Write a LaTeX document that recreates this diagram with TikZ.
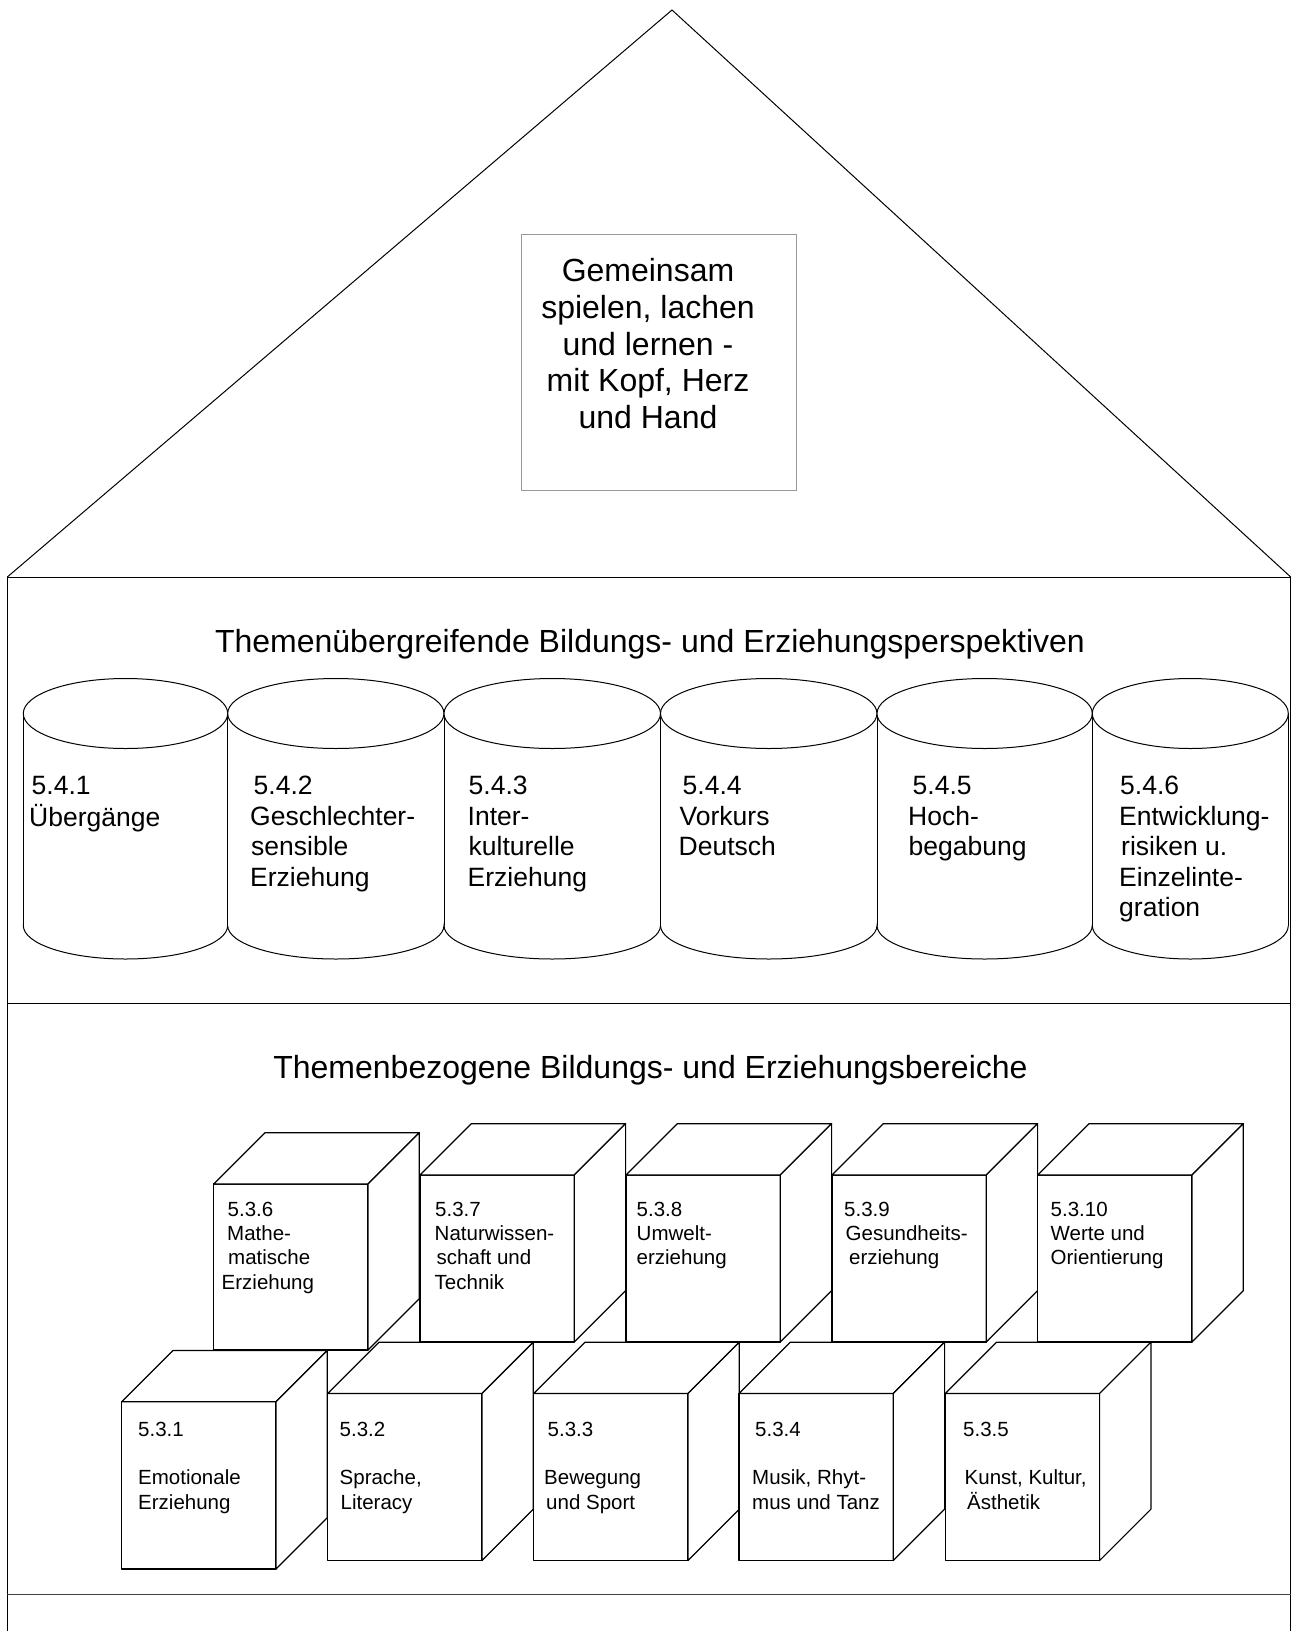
\documentclass[tikz,border=0pt]{standalone}
\usepackage{fontspec}
\setmainfont{Liberation Sans}
\tikzset{
  wall/.style={draw=black, line width=1pt},
  cylline/.style={draw=black, line width=1pt},
  cubeline/.style={draw=black, line width=1.2pt, fill=white, line join=round},
  cyltext/.style={anchor=north west, inner sep=0pt, align=left, font=\fontsize{26.5}{30.5}\selectfont},
  cubetext/.style={anchor=north west, inner sep=0pt, align=left, font=\fontsize{20.5}{24.3}\selectfont},
  titletext/.style={anchor=base, inner sep=0pt, font=\fontsize{32}{38}\selectfont},
}
\begin{document}
\begin{tikzpicture}[x=1pt,y=-1pt]
\fill[white] (0,0) rectangle (1293,1631);
\useasboundingbox (0,0) rectangle (1293,1631);

% house outline
\coordinate (apex) at (672,10);
\coordinate (eL) at (7.3,577);
\coordinate (eR) at (1290.7,577);
\coordinate (bL) at (7.3,1631);
\coordinate (bR) at (1290.7,1631);
\coordinate (m1L) at (7.3,1003.3);
\coordinate (m1R) at (1290.7,1003.3);
\coordinate (m2L) at (7.3,1594.5);
\coordinate (m2R) at (1290.7,1594.5);
\draw[wall] (eL) -- (apex) -- (eR);
\draw[wall] (bL) -- (eL) -- (eR) -- (bR);
\draw[wall] (m1L) -- (m1R);
\draw[line width=1.6pt, black!75] (m2L) -- (m2R);

% motto box
\node[draw=black!40, line width=1pt, minimum width=274.3pt, minimum height=255.7pt, inner sep=0pt] (motto) at (658.85,362.15) {};
\node[anchor=north, align=center, inner sep=0pt, font=\fontsize{32}{36.7}\selectfont] (mottotext) at (648,256) {\strut Gemeinsam\\spielen, lachen\\und lernen -\\mit Kopf, Herz\\und Hand};

% titles
\node[titletext] (t1) at (650,652) {Themenübergreifende Bildungs- und Erziehungsperspektiven};
\node[titletext] (t2) at (650.5,1078.3) {Themenbezogene Bildungs- und Erziehungsbereiche};

% cylinders
\foreach \a/\b in {23.3/227.7, 227.7/444, 444/660.5, 660.5/877, 877/1092.3, 1092.3/1288.3} {
  \pgfmathsetmacro\cc{(\a+\b)/2}
  \pgfmathsetmacro\rr{(\b-\a)/2}
  \draw[cylline, fill=white] (\cc,925.5) ellipse [x radius=\rr pt, y radius=33.5pt];
  \fill[white] (\a,713.5) rectangle (\b,925.5);
  \draw[cylline] (\a,713.5) -- (\a,925.5) (\b,713.5) -- (\b,925.5);
  \draw[cylline, fill=white] (\cc,713.5) ellipse [x radius=\rr pt, y radius=35pt];
}

\node[cyltext] (c1) at (29,773) {\strut\hspace{2.5pt}5.4.1\\Übergänge};
\node[cyltext] (c2) at (250,773) {\strut\hspace{3.5pt}5.4.2\\Geschlechter-\\\hspace{1pt}sensible\\Erziehung};
\node[cyltext] (c3) at (467.5,773) {\strut\hspace{1pt}5.4.3\\Inter-\\\hspace{1pt}kulturelle\\Erziehung};
\node[cyltext] (c4) at (678.5,773) {\strut\hspace{4pt}5.4.4\\\hspace{1pt}Vorkurs\\Deutsch};
\node[cyltext] (c5) at (908,773) {\strut\hspace{4.5pt}5.4.5\\Hoch-\\\hspace{0.5pt}begabung};
\node[cyltext] (c6) at (1119,773) {\strut\hspace{1pt}5.4.6\\Entwicklung-\\\hspace{2pt}risiken u.\\Einzelinte-\\gration};

% cubes, back row then front row
\foreach \x/\y/\h in {213.7/1184/166, 420/1175/167, 626/1175/167, 832/1175/167, 1037.7/1175/167,
                      121.7/1401.7/167.3, 327.7/1393.5/167, 533.7/1393.5/167, 739/1393.5/167, 945.3/1393.5/167} {
  \draw[cubeline] (\x,\y) rectangle ++(154.3,\h);
  \draw[cubeline] (\x,\y) -- ++(51.3,-51.3) -- ++(154.3,0) -- ++(-51.3,51.3) -- cycle;
  \draw[cubeline] ({\x+154.3},\y) -- ++(51.3,-51.3) -- ++(0,\h) -- ++(-51.3,51.3) -- cycle;
}

\node[cubetext] (k6) at (221.5,1199) {\strut\hspace{6pt}5.3.6\\\hspace{5.5pt}Mathe-\\\hspace{6.5pt}matische\\Erziehung};
\node[cubetext] (k7) at (434.5,1199) {\strut\hspace{0.5pt}5.3.7\\Naturwissen-\\\hspace{2pt}schaft und\\Technik};
\node[cubetext] (k8) at (636.5,1199) {\strut 5.3.8\\Umwelt-\\erziehung};
\node[cubetext] (k9) at (844,1199) {\strut 5.3.9\\\hspace{1.5pt}Gesundheits-\\\hspace{5pt}erziehung};
\node[cubetext] (k10) at (1050.5,1199) {\strut 5.3.10\\Werte und\\Orientierung};

\node[cubetext] (k1) at (138,1419) {\strut 5.3.1\\[24.3pt]Emotionale\\Erziehung};
\node[cubetext] (k2) at (339.5,1419) {\strut 5.3.2\\[24.3pt]Sprache,\\\hspace{1pt}Literacy};
\node[cubetext] (k3) at (544,1419) {\strut\hspace{3.5pt}5.3.3\\[24.3pt]Bewegung\\\hspace{2pt}und Sport};
\node[cubetext] (k4) at (752,1419) {\strut\hspace{3pt}5.3.4\\[24.3pt]Musik, Rhyt-\\mus und Tanz};
\node[cubetext] (k5) at (963,1419) {\strut 5.3.5\\[24.3pt]\hspace{1.5pt}Kunst, Kultur,\\\hspace{4pt}Ästhetik};
\end{tikzpicture}
\end{document}
